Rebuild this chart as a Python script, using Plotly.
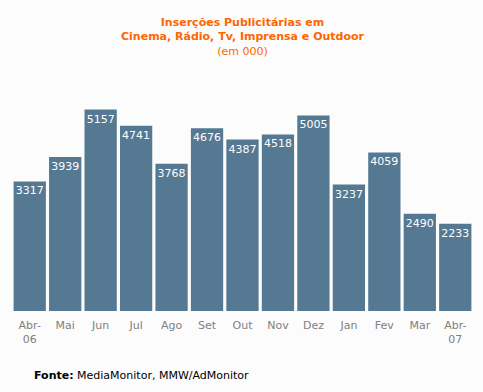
import plotly.graph_objects as go

months = ["Abr-<br>06", "Mai", "Jun", "Jul", "Ago", "Set", "Out", "Nov", "Dez", "Jan", "Fev", "Mar", "Abr-<br>07"]
values = [3317, 3939, 5157, 4741, 3768, 4676, 4387, 4518, 5005, 3237, 4059, 2490, 2233]

bar_color = "#557893"
bg = "#FCFCFC"
font_family = "DejaVu Sans, Verdana, sans-serif"

fig = go.Figure(go.Bar(
    x=months, y=values,
    marker=dict(color=bar_color, line=dict(width=0)),
    text=[str(v) for v in values],
    textposition="inside",
    insidetextanchor="end",
    textangle=0,
    textfont=dict(color="white", size=11, family=font_family),
    hoverinfo="skip",
))

W, H = 483, 392
ML, MR, MT, MB = 12, 10, 100, 81

fig.update_layout(
    width=W, height=H,
    margin=dict(l=ML, r=MR, t=MT, b=MB),
    paper_bgcolor=bg, plot_bgcolor=bg,
    bargap=0.09,
    showlegend=False,
    uniformtext=dict(minsize=11, mode="show"),
    xaxis=dict(showgrid=False, zeroline=False, showline=False, ticks="",
               ticklabelstandoff=6,
               tickfont=dict(color="#808080", size=11, family=font_family)),
    yaxis=dict(range=[0, 5400], visible=False),
)

plot_h = H - MT - MB
plot_w = W - ML - MR
def px_to_paper_y(py):
    return (H - MB - py) / plot_h
def px_to_paper_x(px):
    return (px - ML) / plot_w

fig.add_annotation(
    text="<b>Inserções Publicitárias em<br>Cinema, Rádio, Tv, Imprensa e Outdoor</b><br>(em 000)",
    x=0.5, y=px_to_paper_y(37), xref="paper", yref="paper", showarrow=False,
    xanchor="center", yanchor="middle",
    font=dict(color="#FF6600", size=11, family=font_family), align="center")
fig.add_annotation(
    text="<b>Fonte:</b> MediaMonitor, MMW/AdMonitor",
    x=px_to_paper_x(32), y=px_to_paper_y(375), xref="paper", yref="paper", showarrow=False,
    xanchor="left", yanchor="middle",
    font=dict(color="black", size=11, family=font_family), align="left")

fig.write_html("out.html", config={"displayModeBar": False},
               post_script="document.body.style.margin='0';")
